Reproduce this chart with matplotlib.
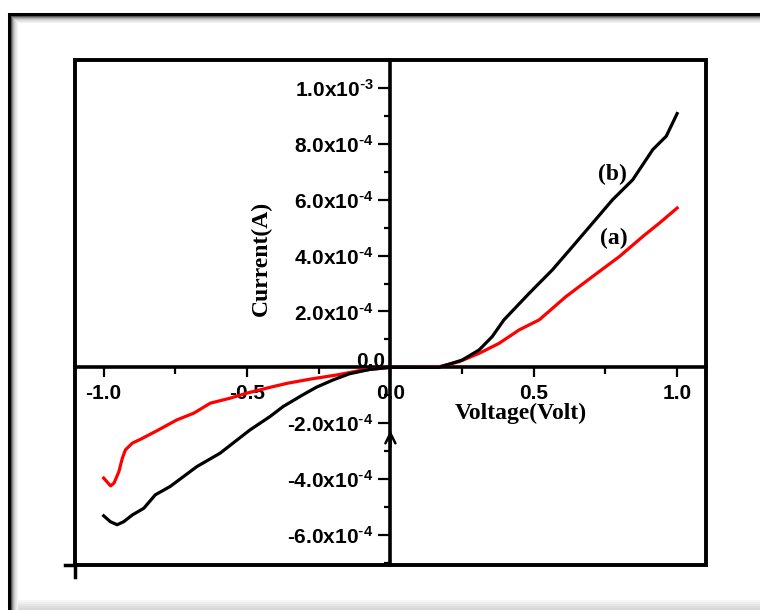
import numpy as np
import matplotlib
matplotlib.use('Agg')
import matplotlib.pyplot as plt
from matplotlib.ticker import FixedLocator, MultipleLocator, FuncFormatter
from matplotlib.patches import Rectangle
from matplotlib.lines import Line2D

plt.rcParams['mathtext.default'] = 'regular'
plt.rcParams['axes.unicode_minus'] = False

# curve (a), red  -- current in units of 1e-4 A
volt_a = [-1.0, -0.976, -0.964, -0.947, -0.935, -0.924, -0.90, -0.871, -0.813,
          -0.745, -0.686, -0.628, -0.558, -0.50, -0.418, -0.36, -0.279, -0.186,
          -0.105, 0.0, 0.08, 0.169, 0.239, 0.309, 0.379, 0.449, 0.519, 0.612,
          0.705, 0.798, 0.88, 0.938, 1.0]
curr_a = [-3.96, -4.24, -4.14, -3.73, -3.25, -2.95, -2.71, -2.57, -2.26,
          -1.88, -1.64, -1.28, -1.10, -0.92, -0.71, -0.57, -0.42, -0.27,
          -0.11, 0.0, 0.0, 0.02, 0.20, 0.50, 0.86, 1.34, 1.70, 2.53,
          3.25, 3.96, 4.68, 5.16, 5.70]

# curve (b), black
volt_b = [-1.0, -0.977, -0.953, -0.930, -0.90, -0.86, -0.82, -0.768, -0.675,
          -0.594, -0.49, -0.42, -0.374, -0.305, -0.258, -0.20, -0.143, -0.07,
          0.0, 0.1, 0.169, 0.25, 0.309, 0.355, 0.396, 0.484, 0.565, 0.635,
          0.705, 0.775, 0.845, 0.915, 0.962, 1.0]
curr_b = [-5.31, -5.52, -5.63, -5.52, -5.28, -5.04, -4.56, -4.26, -3.55,
          -3.07, -2.24, -1.76, -1.40, -0.98, -0.71, -0.45, -0.23, -0.07,
          0.0, 0.0, 0.0, 0.26, 0.62, 1.10, 1.70, 2.65, 3.49, 4.32,
          5.16, 6.00, 6.71, 7.79, 8.27, 9.08]

y_major = [-6e-4, -4e-4, -2e-4, 2e-4, 4e-4, 6e-4, 8e-4, 1e-3]
x_major = [-1.0, -0.5, 0.0, 0.5, 1.0]

tick_font = dict(family='Liberation Sans', weight='bold', size=15)
label_font = dict(family='Liberation Serif', weight='bold', size=17)


def yfmt(v, pos):
    if abs(v) < 1e-12:
        return '0.0'
    e = int(np.floor(np.log10(abs(v)) + 1e-9))
    m = v / 10 ** e
    return f'{m:.1f}x10$^{{\\text{{-}}{-e}}}$'


fig = plt.figure(figsize=(7.6, 6.1), dpi=100)
ax = fig.add_axes([0.0987, 0.0738, 0.830, 0.828])

ax.plot(volt_a, np.array(curr_a) * 1e-4, color='#ff0000', lw=2.3, zorder=4)
ax.plot(volt_b, np.array(curr_b) * 1e-4, color='black', lw=2.3, zorder=4)

ax.set_xlim(-1.1, 1.1)
ax.set_ylim(-7.07e-4, 1.1e-3)

# axes crossing at the origin
for s in ['top', 'right']:
    ax.spines[s].set_visible(False)
ax.spines['left'].set_position(('data', 0))
ax.spines['bottom'].set_position(('data', 0))
for s in ['left', 'bottom']:
    ax.spines[s].set_linewidth(2.6)
    ax.spines[s].set_zorder(3)

# frame box
ax.add_patch(Rectangle((0, 0), 1, 1, transform=ax.transAxes, fill=False,
                       lw=2.8, edgecolor='black', clip_on=False, zorder=5))
ax.add_line(Line2D([0, 0], [0, -0.024], transform=ax.transAxes, color='black',
                   lw=2.5, clip_on=False))
ax.add_line(Line2D([-0.016, 0], [0, 0], transform=ax.transAxes, color='black',
                   lw=2.5, clip_on=False))

ax.xaxis.set_major_locator(FixedLocator(x_major))
ax.xaxis.set_minor_locator(MultipleLocator(0.25))
ax.xaxis.set_major_formatter(FuncFormatter(lambda v, p: f'{v:.1f}'))
ax.yaxis.set_major_locator(FixedLocator(y_major))
ax.yaxis.set_minor_locator(MultipleLocator(1e-4))
ax.yaxis.set_major_formatter(FuncFormatter(yfmt))

ax.tick_params(axis='x', which='major', direction='out', length=7.2, width=1.6, pad=5)
ax.tick_params(axis='x', which='minor', direction='out', length=5, width=1.6)
ax.tick_params(axis='y', which='major', direction='out', length=8.6, width=1.6, pad=3.5)
ax.tick_params(axis='y', which='minor', direction='out', length=4.3, width=1.6)
for lab in ax.get_xticklabels() + ax.get_yticklabels():
    lab.set_fontproperties(matplotlib.font_manager.FontProperties(**tick_font))

ax.annotate('0.0', xy=(0, 0), xytext=(-4, 4), textcoords='offset points',
            ha='right', va='center', **tick_font)

# small arrow on the current axis
ax.annotate('', xy=(0, -2.16e-4), xytext=(0, -2.95e-4),
            arrowprops=dict(arrowstyle='->', lw=1.8, color='black',
                            mutation_scale=18))

ax.text(0.707, 0.301, 'Voltage(Volt)', transform=ax.transAxes,
        ha='center', va='center', **label_font)
ax.text(0.296, 0.606, 'Current(A)', transform=ax.transAxes, rotation=90,
        ha='center', va='center', **label_font)

ax.text(0.774, 6.89e-4, '(b)', ha='center', va='center', **label_font)
ax.text(0.78, 4.6e-4, '(a)', ha='center', va='center', **label_font)

# outer picture frame with a soft shadow
W, H = 760.0, 610.0
grays = ['#000000', '#000000', '#000000', '#555555', '#888888', '#b0b0b0',
         '#cccccc', '#dddddd', '#e8e8e8', '#f2f2f2']
for i, g in enumerate(grays):
    y = 1 - (13 + i) / H
    fig.add_artist(Line2D([(8 + i) / W, 1], [y, y], color=g, lw=0.75))
    x = (8 + i) / W
    fig.add_artist(Line2D([x, x], [0, 1 - (13 + i) / H], color=g, lw=0.75))
for i, g in enumerate(['#f6f6f6', '#efefef', '#e6e6e6', '#dedede', '#d8d8d8']):
    y = (10 - 2 * i) / H
    fig.add_artist(Rectangle((8 / W, 0), 1, y, color=g, lw=0, zorder=-1))

fig.savefig('out.png', dpi=100)
